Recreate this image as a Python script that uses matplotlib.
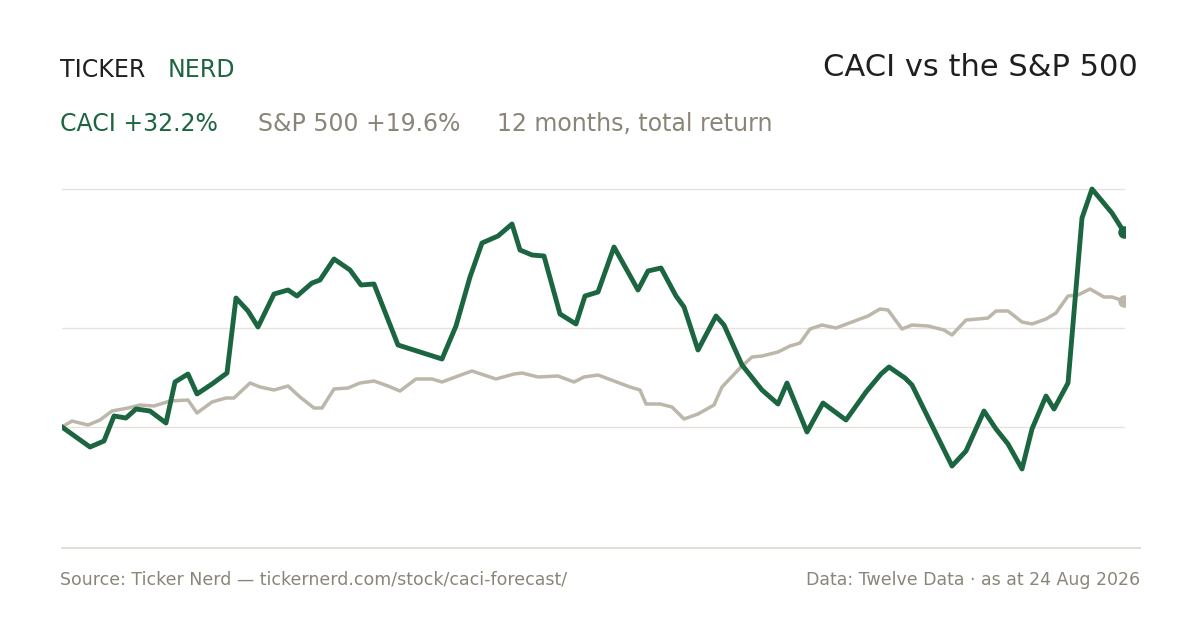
import numpy as np
import matplotlib.pyplot as plt

# readings: (day position 0..1063, value in %); value scale ~0.165 %/px
caci_x = [0, 28, 42, 52, 64, 74, 88, 104, 113, 126, 135, 150, 165, 174, 186, 196, 212, 226, 235, 250, 258, 272, 288, 299, 312, 336, 380, 394, 408, 420, 436, 450, 458, 470, 482, 498, 514, 523, 536, 552, 576, 586, 599, 614, 622, 636, 654, 662, 680, 700, 716, 725, 745, 761, 784, 804, 819, 827, 843, 850, 890, 904, 922, 934, 946, 960, 970, 984, 992, 1006, 1020, 1030, 1050, 1062]
caci_px = [427, 447, 441, 416, 418, 409, 411, 423, 382, 374, 394, 384, 373, 298, 311, 327, 294, 290, 296, 283, 280, 259, 270, 285, 284, 345, 359, 326, 277, 243, 236, 224, 250, 255, 256, 314, 324, 296, 292, 247, 290, 271, 268, 296, 307, 350, 316, 325, 365, 390, 404, 383, 432, 403, 420, 392, 374, 367, 378, 385, 466, 451, 411, 429, 444, 469, 429, 396, 409, 383, 218, 189, 213, 232]
spx_x = [0, 10, 26, 38, 50, 66, 78, 92, 108, 126, 135, 150, 164, 172, 188, 198, 212, 226, 238, 252, 260, 272, 286, 298, 312, 326, 338, 354, 370, 380, 396, 410, 422, 434, 452, 460, 476, 496, 512, 522, 536, 552, 568, 578, 584, 598, 610, 622, 636, 652, 660, 678, 690, 700, 716, 728, 738, 748, 760, 774, 790, 806, 818, 826, 840, 850, 866, 882, 890, 904, 916, 926, 934, 946, 960, 970, 984, 994, 1006, 1016, 1028, 1042, 1050, 1062]
spx_px = [427, 421, 425, 420, 411, 408, 405, 406, 401, 400, 413, 402, 398, 398, 383, 387, 390, 386, 397, 408, 408, 389, 388, 383, 381, 386, 391, 379, 379, 382, 376, 371, 375, 379, 374, 373, 377, 376, 382, 377, 375, 381, 387, 390, 404, 404, 407, 419, 414, 405, 387, 368, 357, 356, 352, 346, 343, 329, 325, 328, 322, 316, 309, 310, 329, 325, 326, 330, 335, 320, 319, 318, 311, 311, 322, 324, 319, 313, 296, 295, 289, 297, 297, 301]
K = 0.165
caci = (427 - np.array(caci_px)) * K
spx = (427 - np.array(spx_px)) * K

GREEN = "#1b6640"
GREY = "#bdb6aa"
TXT = "#8a8578"

fig = plt.figure(figsize=(12, 6.3), dpi=100)
ax = fig.add_axes([62/1200, (630-548)/630, (1125-62)/1200, (548-160)/630])
ax.set_xlim(0, 1063)
ax.set_ylim((427-548)*K, (427-160)*K)
for g in [189, 328, 427]:
    ax.axhline((427-g)*K, color="#e6e3dc", lw=1, zorder=0)
ax.plot(spx_x, spx, color=GREY, lw=2.5, solid_joinstyle="round")
ax.plot(caci_x, caci, color=GREEN, lw=3.5, solid_joinstyle="round")
ax.plot(spx_x[-1], spx[-1], "o", color=GREY, ms=8)
ax.plot(caci_x[-1], caci[-1], "o", color=GREEN, ms=8)
ax.axis("off")
fig.add_artist(plt.Line2D([62/1200, 1140/1200], [(630-548)/630]*2, color="#dcd8cf", lw=1.2))

fig.text(60/1200, 1-70/630, "TICKER", fontsize=17, color="#1f1f1f", va="center", family="DejaVu Sans")
fig.text(168/1200, 1-70/630, "NERD", fontsize=17, color=GREEN, va="center", family="DejaVu Sans")
fig.text(1138/1200, 1-68/630, "CACI vs the S&P 500", fontsize=22, color="#1f1f1f", ha="right", va="center")
fig.text(60/1200, 1-124/630, "CACI +32.2%", fontsize=17, color=GREEN, va="center")
fig.text(258/1200, 1-124/630, "S&P 500 +19.6%", fontsize=17, color=TXT, va="center")
fig.text(497/1200, 1-124/630, "12 months, total return", fontsize=17, color=TXT, va="center")
fig.text(60/1200, 1-580/630, "Source: Ticker Nerd — tickernerd.com/stock/caci-forecast/", fontsize=12.5, color=TXT, va="center")
fig.text(1140/1200, 1-580/630, "Data: Twelve Data · as at 24 Aug 2026", fontsize=12.5, color=TXT, va="center", ha="right")
fig.savefig("out.png", dpi=100, facecolor="white")
